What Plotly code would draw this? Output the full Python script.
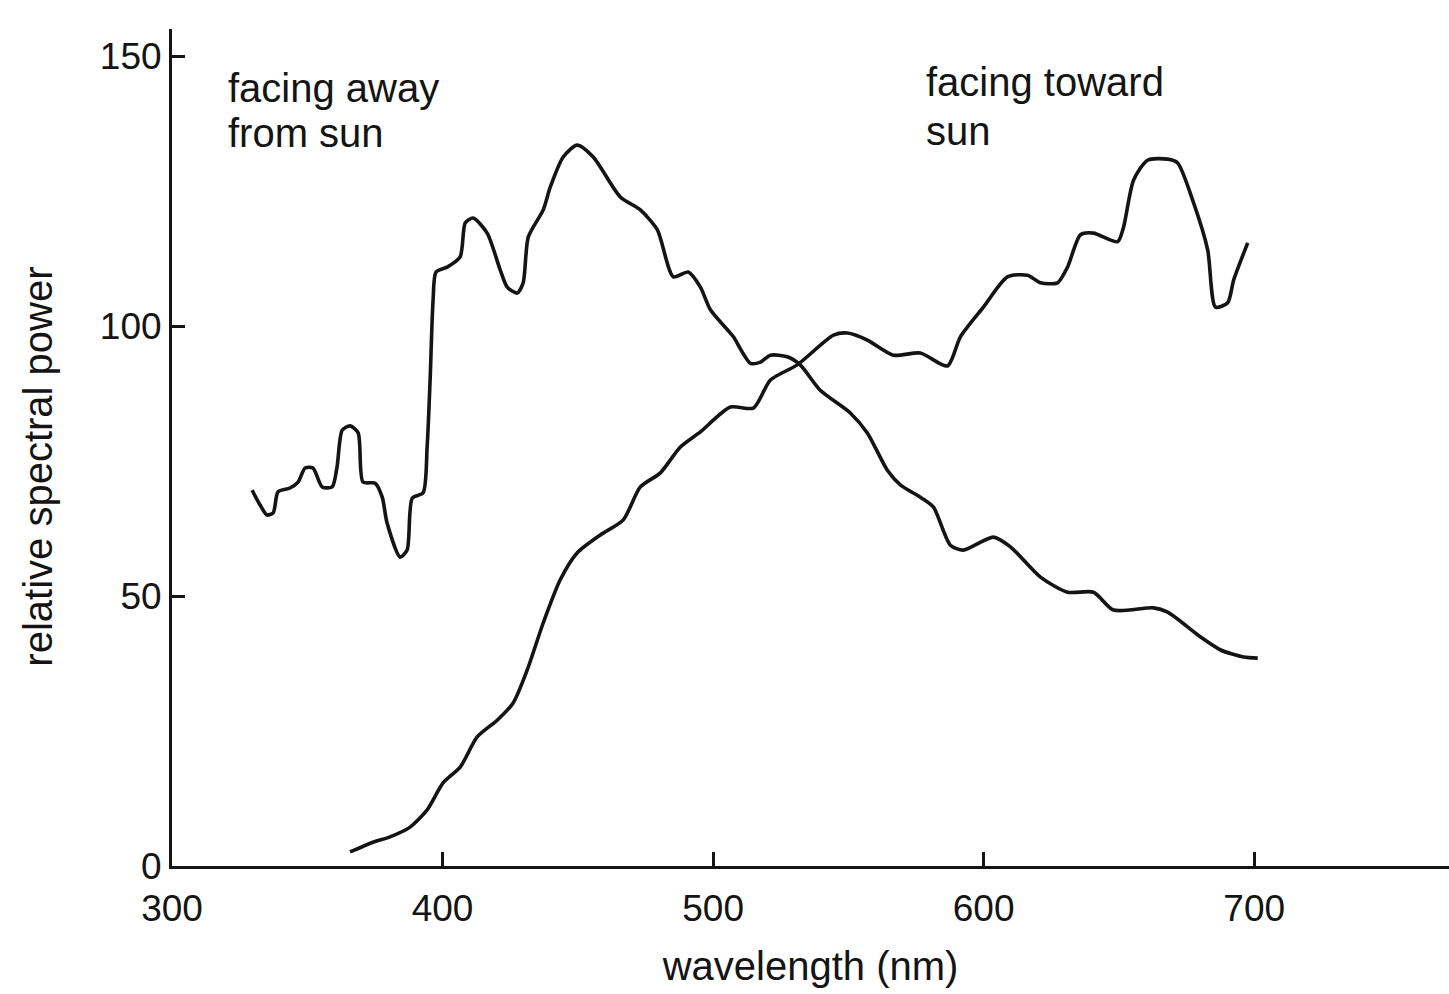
import plotly.graph_objects as go

# facing away from sun
away_wl = [329.6, 332.5, 335.1, 337.4, 339.2, 343.6, 346.6, 349.2, 352.1, 355.5, 359.2, 361.0,
           362.9, 365.8, 368.8, 370.6, 375.1, 377.7, 379.5, 384.3, 386.9, 388.8, 392.8, 394.3,
           395.4, 396.5, 397.6, 401.7, 406.5, 408.4, 411.3, 416.5, 421.3, 423.9, 427.6, 429.8,
           431.7, 437.2, 439.8, 444.6, 449.8, 455.7, 465.7, 473.1, 479.4, 485.3, 490.8, 495.3,
           499.0, 505.3, 507.5, 513.8, 517.5, 521.2, 527.4, 532.2, 539.6, 550.7, 557.0, 564.4,
           569.2, 576.6, 581.4, 587.7, 592.5, 603.6, 609.9, 621.0, 631.0, 640.6, 648.0, 662.8,
           668.0, 680.2, 687.6, 696.1, 701.3]
away_pw = [69.6, 66.9, 65.0, 65.4, 69.3, 70.0, 71.1, 73.7, 73.7, 70.2, 70.2, 73.9,
           80.7, 81.5, 80.2, 71.1, 70.9, 68.3, 63.5, 57.2, 58.5, 68.1, 69.1, 77.6,
           90.0, 104.8, 110.0, 110.9, 112.8, 119.1, 120.0, 117.2, 110.4, 107.2, 106.1, 108.0,
           116.5, 121.5, 125.7, 131.3, 133.5, 131.3, 123.9, 121.5, 117.8, 109.1, 110.0, 107.2,
           103.0, 99.3, 98.0, 93.1, 93.3, 94.6, 94.3, 92.8, 88.1, 83.9, 80.2, 73.3,
           70.6, 68.3, 66.5, 59.4, 58.5, 60.9, 59.1, 53.5, 50.7, 50.7, 47.4, 47.8,
           47.0, 42.4, 40.0, 38.7, 38.5]

# facing toward sun
toward_wl = [365.8, 374.3, 380.6, 388.0, 394.3, 400.2, 406.5, 412.8, 420.2, 426.1, 431.3, 437.2,
             443.5, 449.8, 458.3, 466.8, 473.1, 480.5, 487.9, 495.3, 506.4, 514.9, 521.2, 531.1,
             544.5, 549.6, 557.0, 566.6, 576.6, 586.6, 591.4, 599.9, 608.8, 616.2, 621.0, 627.3,
             631.0, 635.8, 640.6, 649.5, 651.7, 655.4, 660.6, 668.0, 671.7, 677.6, 682.8, 685.7,
             690.2, 692.4, 697.6]
toward_pw = [2.6, 4.4, 5.4, 7.2, 10.4, 15.4, 18.3, 23.9, 27.0, 30.2, 36.3, 45.0,
             53.0, 58.0, 61.3, 64.1, 70.2, 72.8, 77.6, 80.4, 85.0, 84.8, 90.0, 92.8,
             98.3, 98.7, 97.4, 94.6, 95.0, 92.6, 98.0, 103.5, 109.1, 109.4, 108.0, 108.0,
             110.9, 116.9, 117.2, 115.6, 118.3, 127.0, 130.7, 130.9, 130.2, 122.8, 114.1, 103.5,
             104.3, 108.5, 115.4]

x_ticks = [300, 400, 500, 600, 700]
y_ticks = [0, 50, 100, 150]

FONT = "Liberation Sans, Arial, Helvetica, sans-serif"
INK = "#141414"

fig = go.Figure()
for wl, pw in [(away_wl, away_pw), (toward_wl, toward_pw)]:
    fig.add_trace(go.Scatter(x=wl, y=pw, mode="lines",
                             line=dict(color=INK, width=3.6, shape="spline", smoothing=0.7),
                             showlegend=False, hoverinfo="skip"))

labels = [("facing away", 320.0, 144.1), ("from sun", 320.0, 135.7),
          ("facing toward", 578.1, 145.2), ("sun", 578.1, 136.1)]
for txt, ax, ay in labels:
    fig.add_annotation(x=ax, y=ay, xref="x", yref="y", text=txt, showarrow=False,
                       xanchor="left", yanchor="middle",
                       font=dict(family=FONT, size=40, color=INK))

# y-axis title placed to match the reference position
fig.add_annotation(x=-0.105, y=0.477, xref="paper", yref="paper",
                   text="relative spectral power", textangle=-90, showarrow=False,
                   xanchor="center", yanchor="middle",
                   font=dict(family=FONT, size=40, color=INK))

fig.update_layout(
    width=1449, height=994,
    margin=dict(l=172, r=0, t=29, b=128),
    paper_bgcolor="white", plot_bgcolor="white",
    font=dict(family=FONT, color=INK),
    xaxis=dict(range=[300, 772], tickvals=x_ticks, ticktext=[str(v) for v in x_ticks],
               showgrid=False, zeroline=False, showline=True, linecolor=INK, linewidth=3,
               ticks="inside", ticklen=14, tickwidth=3, tickcolor=INK,
               ticklabelstandoff=8,
               tickfont=dict(family=FONT, size=37, color=INK),
               title=dict(text="wavelength (nm)", font=dict(family=FONT, size=40, color=INK),
                          standoff=24)),
    yaxis=dict(range=[0, 155], tickvals=y_ticks, ticktext=[str(v) for v in y_ticks],
               showgrid=False, zeroline=False, showline=True, linecolor=INK, linewidth=3,
               ticks="inside", ticklen=13, tickwidth=3, tickcolor=INK,
               tickfont=dict(family=FONT, size=37, color=INK)),
)

fig.write_html("out.html")
